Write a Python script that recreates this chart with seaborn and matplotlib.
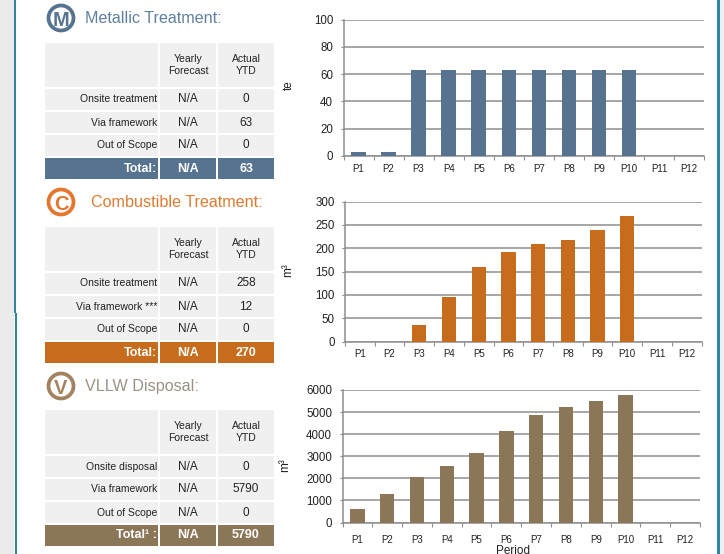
import matplotlib
matplotlib.use('Agg')
import matplotlib.pyplot as plt
from matplotlib.patches import Rectangle, Circle
import pandas as pd
import seaborn as sns

W, H = 724, 554

periods = ['P1', 'P2', 'P3', 'P4', 'P5', 'P6', 'P7', 'P8', 'P9', 'P10', 'P11', 'P12']
metallic = [3, 3, 63, 63, 63, 63, 63, 63, 63, 63, 0, 0]
combustible = [0, 0, 35, 96, 160, 192, 210, 218, 238, 270, 0, 0]
vllw = [600, 1290, 2060, 2540, 3140, 4160, 4860, 5210, 5490, 5790, 0, 0]

header_cols = ['Yearly\nForecast', 'Actual\nYTD']
metallic_rows = [['Onsite treatment', 'N/A', '0'], ['Via framework', 'N/A', '63'],
                 ['Out of Scope', 'N/A', '0'], ['Total:', 'N/A', '63']]
combustible_rows = [['Onsite treatment', 'N/A', '258'], ['Via framework ***', 'N/A', '12'],
                    ['Out of Scope', 'N/A', '0'], ['Total:', 'N/A', '270']]
vllw_rows = [['Onsite disposal', 'N/A', '0'], ['Via framework', 'N/A', '5790'],
             ['Out of Scope', 'N/A', '0'], ['Total\u00b9 :', 'N/A', '5790']]

BLUE, ORANGE, BROWN = '#56738f', '#c66c1c', '#8c7658'
TEAL = '#2f86a3'
CELL = '#f0f0f0'
GRID = '#8e8e8e'

sns.set_theme(style='white')
plt.rcParams['font.family'] = ['Liberation Sans', 'DejaVu Sans']

fig = plt.figure(figsize=(W / 100, H / 100), dpi=100, facecolor='white')

# overlay in pixel coords for the panel furniture and the tables
bg = fig.add_axes([0, 0, 1, 1])
bg.set_xlim(0, W)
bg.set_ylim(H, 0)
bg.axis('off')
bg.add_patch(Rectangle((0, 0), 14, H, color='#ebebeb', lw=0))
bg.add_patch(Rectangle((14, 0), 2, 313, color=TEAL, lw=0))
bg.add_patch(Rectangle((15, 313), 1.5, H - 313, color=TEAL, lw=0))
bg.add_patch(Rectangle((717, 0), 2.5, H, color=TEAL, lw=0))
bg.add_patch(Rectangle((719.5, 0), 5, H, color='#f0f0f0', lw=0))


def draw_heading(y, letter, title, title_x, icon_col, title_col):
    bg.add_patch(Circle((61, y), 12.5, fc='white', ec=icon_col, lw=2.7))
    bg.text(61, y + 0.5, letter, color=icon_col, fontsize=14.5, fontweight='bold',
            ha='center', va='center_baseline')
    bg.text(title_x, y + 0.5, title, color=title_col, fontsize=11.6, ha='left', va='center')


def draw_table(top, rows, colour, text_col='#222222'):
    cols = [(45, 158), (160, 216), (218, 274)]
    # header block
    for x0, x1 in cols:
        bg.add_patch(Rectangle((x0, top), x1 - x0, 44, color=CELL, lw=0))
    for (x0, x1), label in zip(cols[1:], header_cols):
        bg.text((x0 + x1) / 2, top + 22, label, fontsize=7.5, color=text_col,
                ha='center', va='center', linespacing=1.35)
    y = top + 46
    for i, row in enumerate(rows):
        total = i == len(rows) - 1
        for j, (x0, x1) in enumerate(cols):
            bg.add_patch(Rectangle((x0, y), x1 - x0, 21, color=colour if total else CELL, lw=0))
            size = 9 if total else (7.5 if j == 0 else 8.5)
            x = x1 - 1 if j == 0 else (x0 + x1) / 2
            bg.text(x, y + 10.5, row[j], ha='right' if j == 0 else 'center', va='center',
                    fontsize=size, color='white' if total else text_col,
                    fontweight='bold' if total else 'normal')
        y += 23


def draw_chart(left, right, top, bottom, values, ymax, step, colour, unit, unit_x, unit_y, xpad):
    ax = fig.add_axes([left / W, 1 - bottom / H, (right - left) / W, (bottom - top) / H])
    df = pd.DataFrame({'period': periods, 'value': values})
    sns.barplot(data=df, x='period', y='value', color=colour, width=0.48,
                saturation=1, linewidth=0, ax=ax, zorder=3)
    ax.set_xlim(-0.5, 11.5)
    ax.set_ylim(0, ymax)
    ax.set_yticks(range(0, ymax + 1, step))
    ax.set_axisbelow(True)
    ax.grid(axis='y', color=GRID, lw=1.1)
    ax.grid(axis='x', visible=False)
    sns.despine(ax=ax)
    for side in ['left', 'bottom']:
        ax.spines[side].set_color(GRID)
        ax.spines[side].set_linewidth(1.1)
    ax.set_xticks([i - 0.5 for i in range(13)], minor=True)
    ax.tick_params(axis='x', which='minor', bottom=True, length=3, width=0.8, color=GRID)
    ax.tick_params(axis='x', which='major', bottom=False, length=0, labelsize=7, pad=xpad,
                   labelcolor='#222222')
    ax.tick_params(axis='y', left=True, length=2, width=0.8, color=GRID,
                   labelsize=8.3, pad=5.5, labelcolor='#222222')
    ax.set_xlabel('')
    ax.set_ylabel('')
    bg.text(unit_x, unit_y, unit, rotation=90, fontsize=8.5, color='#222222',
            ha='center', va='center')
    return ax


draw_heading(18, 'M', 'Metallic Treatment:', 85, BLUE, '#5f7f9f')
draw_table(43, metallic_rows, BLUE)
draw_chart(343.5, 704, 19.5, 156, metallic, 100, 20, BLUE, 'te', 288.5, 85, 5.7)

draw_heading(202, 'C', 'Combustible Treatment:', 91, '#e4762e', '#e07a30')
draw_table(227, combustible_rows, ORANGE)
draw_chart(345, 701.5, 201.5, 341.5, combustible, 300, 50, ORANGE, 'm\u00b3', 288.5, 270, 5.7)

draw_heading(386, 'V', 'VLLW Disposal:', 85, '#a5825f', '#9a9184')
draw_table(410, vllw_rows, BROWN)
draw_chart(342.5, 700, 390, 522.5, vllw, 6000, 1000, BROWN, 'm\u00b3', 285.5, 465, 9.2)
bg.text(513, 551, 'Period', fontsize=8.5, color='#222222', ha='center', va='center')

fig.savefig('out.png', dpi=100)
